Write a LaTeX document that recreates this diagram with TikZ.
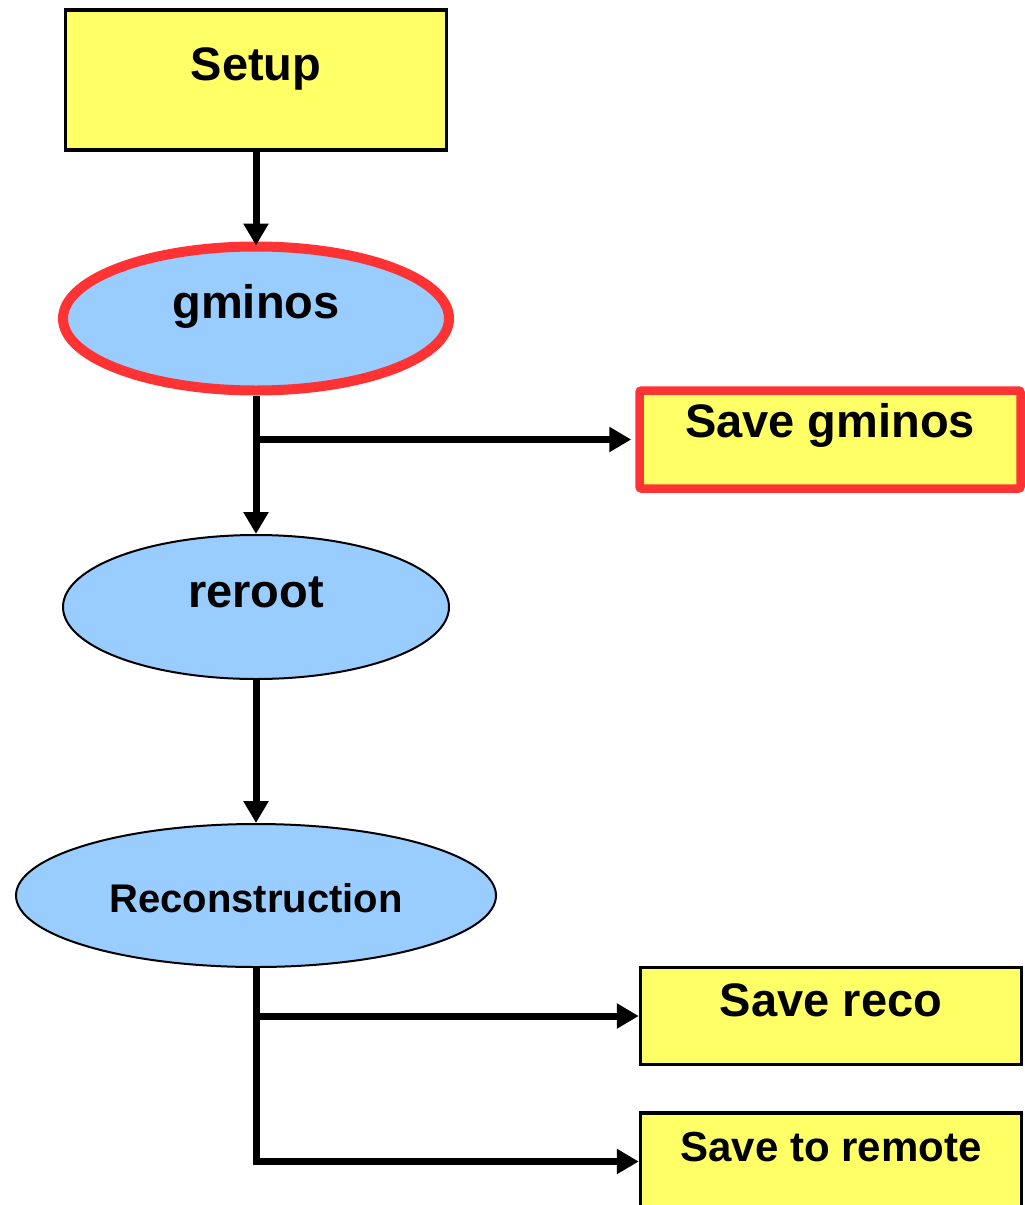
\documentclass[tikz,border=0pt]{standalone}
\usepackage{fontspec}
\setmainfont{Liberation Sans}
\usetikzlibrary{shapes.geometric, arrows.meta, positioning}
\definecolor{boxyellow}{HTML}{FFFF66}
\definecolor{jobblue}{HTML}{99CCFF}
\definecolor{hotred}{HTML}{FF3333}
\begin{document}
\begin{tikzpicture}[x=1pt, y=-1pt,
	stepbox/.style={rectangle, draw=black, line width=3.5pt, fill=boxyellow, inner sep=0pt,
		minimum width=381pt, minimum height=97pt, text height=30pt, text depth=30pt,
		font=\bfseries\fontsize{47}{56}\selectfont},
	jobell/.style={ellipse, draw=black, line width=2pt, fill=jobblue, inner sep=0pt,
		minimum width=386pt, minimum height=144pt, text height=20pt, text depth=20pt,
		font=\bfseries\fontsize{47}{56}\selectfont},
	hot/.style={draw=hotred, line width=10pt},
	flow/.style={draw=black, line width=7pt, -{Triangle[width=24pt,length=22pt]}}]
				\useasboundingbox (0,0) rectangle (1025,1205);
				
				\node[stepbox, minimum height=140pt] (setup) at (256,80) {Setup};
				\node[jobell, hot] (gminos) at (256,318.5) {gminos};
				\node[stepbox, hot, line width=8.5pt, rounded corners=2pt, minimum height=98pt,
					text height=28pt, text depth=33pt] (savegm) at (830,439.5) {Save gminos};
				\node[jobell] (reroot) at (256,607) {reroot};
				\node[jobell, minimum width=480pt, minimum height=143pt, text height=33pt, text depth=0pt,
					font=\bfseries\fontsize{40}{48}\selectfont] (reco) at (256,895.5) {Reconstruction};
				\node[stepbox] (savereco) at (831,1016) {Save reco};
				\node[stepbox, font=\bfseries\fontsize{42}{50}\selectfont] (saveremote) at (831,1161.5) {Save to remote};
				
				\draw[flow] (setup.south) -- ([yshift=-4pt]gminos.north);
				\draw[flow] (gminos.south) -- (reroot.north);
				\draw[flow] (gminos.south |- savegm.west) -- ([xshift=-4pt]savegm.west);
				\draw[flow] (reroot.south) -- (reco.north);
				\draw[flow] (reco.south) |- (savereco.west);
				\draw[flow] (reco.south) |- (saveremote.west);
			\end{tikzpicture}
\end{document}
